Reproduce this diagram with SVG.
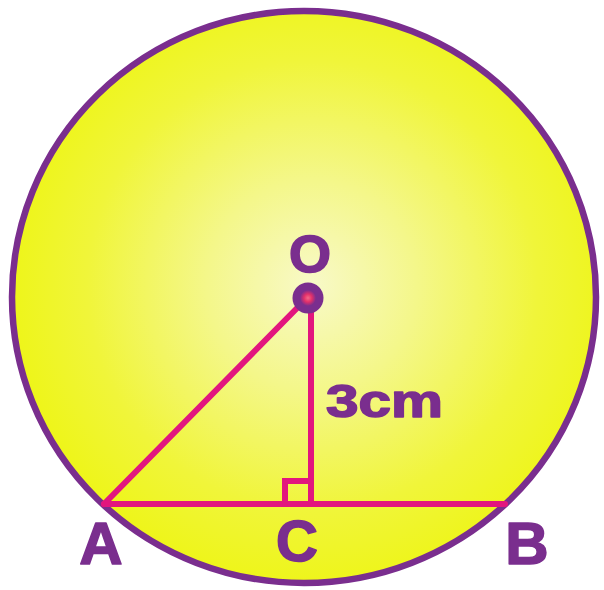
<svg xmlns="http://www.w3.org/2000/svg" width="604" height="590" viewBox="0 0 604 590">
<defs>
<radialGradient id="fill" cx="312" cy="285" r="300" gradientUnits="userSpaceOnUse">
<stop offset="0" stop-color="#f8f9c8"/>
<stop offset="0.35" stop-color="#f4f78a"/>
<stop offset="0.75" stop-color="#f0f53a"/>
<stop offset="1" stop-color="#eef51a"/>
</radialGradient>
<radialGradient id="dotc" cx="0.5" cy="0.5" r="0.5">
<stop offset="0" stop-color="#f46a88"/>
<stop offset="0.5" stop-color="#e2306a"/>
<stop offset="1" stop-color="#7a2e8e"/>
</radialGradient>
<style>
.lbl{font-family:"Liberation Sans",Arial,sans-serif;font-weight:bold;fill:#7a2e8e;stroke:#7a2e8e;stroke-width:1.6;stroke-linejoin:round;}
.seg{stroke:#e2167e;stroke-width:6;fill:none;stroke-linecap:round;}
</style>
</defs>
<rect width="604" height="590" fill="#ffffff"/>
<g id="circle">
<ellipse cx="304" cy="297" rx="292" ry="286" fill="url(#fill)" stroke="#7a2e8e" stroke-width="6.5"/>
</g>
<g id="connectors">
<line class="seg" x1="307" y1="298" x2="104" y2="504"/>
<line class="seg" x1="311" y1="298" x2="311" y2="504"/>
<line class="seg" x1="104" y1="504" x2="505" y2="504"/>
<polyline class="seg" points="285,504 285,481 311,481" stroke-linecap="butt"/>
</g>
<g id="O">
<circle cx="308" cy="298" r="15.5" fill="#7a2e8e"/>
<circle cx="308" cy="298" r="8" fill="url(#dotc)"/>
<text class="lbl" x="310" y="272" font-size="52" text-anchor="middle" textLength="42" lengthAdjust="spacingAndGlyphs">O</text>
</g>
<g id="label3cm">
<text class="lbl" x="326" y="417" font-size="47" textLength="117" lengthAdjust="spacingAndGlyphs">3cm</text>
</g>
<g id="A">
<text class="lbl" x="101" y="564" font-size="60" text-anchor="middle">A</text>
</g>
<g id="C">
<text class="lbl" x="297" y="561" font-size="58" text-anchor="middle">C</text>
</g>
<g id="B">
<text class="lbl" x="527" y="564" font-size="60" text-anchor="middle">B</text>
</g>
</svg>
